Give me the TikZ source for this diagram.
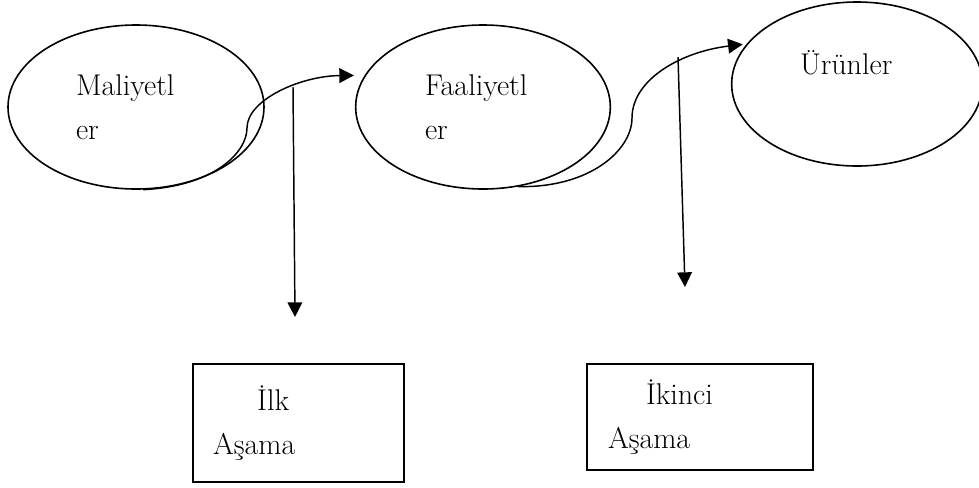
\documentclass[tikz,border=0pt]{standalone}
\usepackage{fontspec}
\usepackage{tikz}
\usetikzlibrary{arrows.meta,shapes.geometric}

\begin{document}
\begin{tikzpicture}[
    x=0.75pt, y=-0.75pt,
    font=\fontsize{22.5pt}{33pt}\selectfont,
    elips/.style={draw, ellipse, line width=1.2pt, inner sep=0pt, align=left},
    kutu/.style={draw, rectangle, line width=1.2pt, align=left, inner ysep=0pt},
    ok/.style={-{Triangle[length=11pt,width=11pt]}, line width=1.1pt}
  ]
    \useasboundingbox (0,0) rectangle (979,487);
    \node[elips, text width=90pt, minimum width=192pt, minimum height=123pt] (maliyet) at (136,107) {Maliyetl\\er};
    \node[elips, text width=87pt, minimum width=191pt, minimum height=123pt] (faaliyet) at (483,107) {Faaliyetl\\er};
    \node[elips, text width=85.5pt, minimum width=188pt, minimum height=123pt] (urun) at (857,84) {Ürünler\\\mbox{}};
    \node[kutu, text width=128pt, inner xsep=15pt, minimum height=88.5pt] (ilk) at (298.5,423)
      {\hspace*{33pt}İlk\\Aşama};
    \node[kutu, text width=138pt, inner xsep=15.75pt, minimum height=79.5pt] (ikinci) at (700,417)
      {\hspace*{28.5pt}İkinci\\Aşama};
    \coordinate (ilkbas) at (293,87);
    \coordinate (ilkuc) at (295,317);
    \coordinate (ikincibas) at (678,57);
    \coordinate (ikinciuc) at (685,287);
    \draw[ok, shorten >=8pt] (maliyet.-85) .. controls (215,186) and (247,152) .. (247,128)
      .. controls (247,100) and (300,76) .. (faaliyet.165);
    \draw[ok, shorten >=3pt] (faaliyet.-66) .. controls (590,188) and (632,150) .. (632,118)
      .. controls (632,80) and (680,52) .. (urun.160);
    \draw[ok] (ilkbas) -- (ilkuc);
    \draw[ok] (ikincibas) -- (ikinciuc);
\end{tikzpicture}
\end{document}
